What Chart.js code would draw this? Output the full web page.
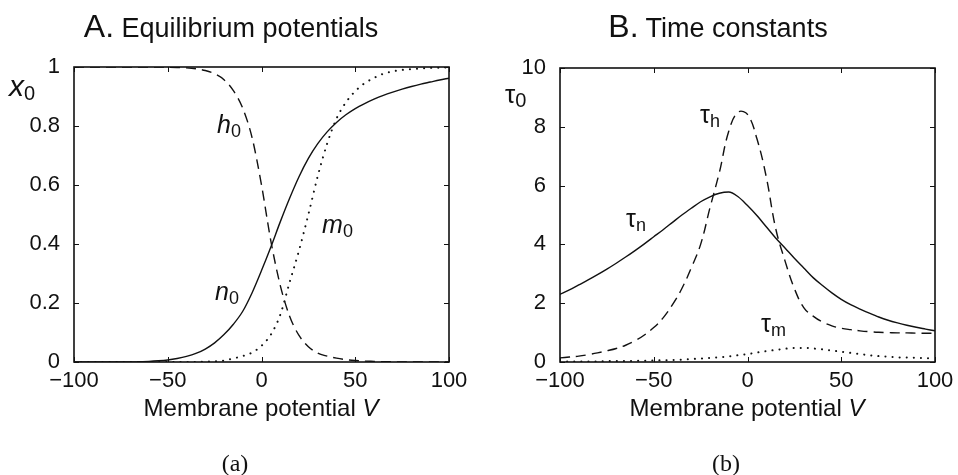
<!DOCTYPE html>
<html lang="en">
<head>
    <meta charset="UTF-8">
    <title>Equilibrium potentials and time constants</title>
    <script src="https://cdn.jsdelivr.net/npm/chart.js"></script>
    <style>
        body { margin: 0; background: #fff; width: 958px; height: 475px; position: relative; overflow: hidden;
               font-family: "Liberation Sans", Arial, sans-serif; color: #111; }
        .panel { position: absolute; top: 0; width: 479px; height: 475px; }
        .txt { position: absolute; white-space: nowrap; line-height: 1; }
        .title { font-size: 27px; }
        .title b { font-weight: normal; font-size: 32px; }
        .xlab { font-size: 24px; }
        .cap { font-family: "Liberation Serif", "DejaVu Serif", serif; font-size: 24px; }
        .ylab { font-size: 30px; }
        .ylab sub { font-size: 20px; font-style: normal; vertical-align: -4px; }
    </style>
</head>
<body>
    <div class="panel" style="left:0"><canvas id="chartA" width="479" height="475"></canvas></div>
    <div class="panel" style="left:479px"><canvas id="chartB" width="479" height="475"></canvas></div>

    <div class="txt title" style="left:0; width:462px; text-align:center; top:10px"><b>A.</b> Equilibrium potentials</div>
    <div class="txt title" style="left:475px; width:486px; text-align:center; top:10px"><b>B.</b> Time constants</div>
    <div class="txt xlab" style="left:61px; width:400px; text-align:center; top:396px">Membrane potential <i>V</i></div>
    <div class="txt xlab" style="left:547px; width:400px; text-align:center; top:396px">Membrane potential <i>V</i></div>
    <div class="txt cap" style="left:135px; width:200px; text-align:center; top:451px">(a)</div>
    <div class="txt cap" style="left:626px; width:200px; text-align:center; top:451px">(b)</div>
    <div class="txt ylab" style="left:9px; top:71px"><i>x</i><sub>0</sub></div>
    <div class="txt ylab" style="left:505px; top:81px; font-size:26px">τ<sub>0</sub></div>

    <script>
        // membrane potential (shared x values)
        const V = [-100, -95, -90, -85, -80, -75, -70, -65, -60, -55, -50, -45, -40, -35, -30, -25, -20, -15, -10, -5,
                   0, 5, 10, 15, 20, 25, 30, 35, 40, 45, 50, 55, 60, 65, 70, 75, 80, 85, 90, 95, 100];

        // A. equilibrium values
        const h0 = [1, 1, 1, 1, 1, 1, 1, 1, 1, 1, 0.999, 0.998, 0.997, 0.994, 0.988, 0.977, 0.957, 0.92, 0.86, 0.76,
                    0.6, 0.41, 0.26, 0.155, 0.09, 0.052, 0.03, 0.02, 0.013, 0.008, 0.005, 0.003, 0.002, 0.001, 0.001, 0, 0, 0, 0, 0, 0];
        const n0 = [0, 0, 0, 0, 0, 0, 0, 0.001, 0.002, 0.004, 0.007, 0.012, 0.019, 0.029, 0.044, 0.065, 0.093, 0.128, 0.172, 0.235,
                    0.31, 0.39, 0.475, 0.555, 0.628, 0.69, 0.74, 0.78, 0.812, 0.838, 0.859, 0.876, 0.891, 0.904, 0.915, 0.925, 0.934, 0.942, 0.949, 0.956, 0.962];
        const m0 = [0, 0, 0, 0, 0, 0, 0, 0, 0, 0, 0, 0, 0, 0, 0.001, 0.002, 0.005, 0.012, 0.02, 0.032,
                    0.055, 0.093, 0.16, 0.27, 0.378, 0.5, 0.63, 0.74, 0.825, 0.88, 0.918, 0.945, 0.963, 0.977, 0.985, 0.99, 0.993, 0.995, 0.997, 0.998, 0.999];

        // B. time constants
        const tauH = [0.14, 0.17, 0.2, 0.25, 0.31, 0.38, 0.46, 0.57, 0.72, 0.92, 1.17, 1.5, 1.95, 2.5, 3.2, 4.0, 5.25, 6.45, 7.85, 8.5,
                      8.42, 7.6, 6.3, 4.55, 3.44, 2.5, 1.85, 1.56, 1.36, 1.23, 1.15, 1.1, 1.06, 1.03, 1.01, 1.0, 0.99, 0.99, 0.98, 0.98, 0.98];
        const tauN = [2.3, 2.45, 2.62, 2.79, 2.97, 3.16, 3.36, 3.57, 3.79, 4.02, 4.26, 4.5, 4.75, 5.0, 5.23, 5.45, 5.62, 5.74, 5.78, 5.62,
                      5.32, 4.98, 4.6, 4.22, 3.88, 3.53, 3.2, 2.87, 2.6, 2.35, 2.13, 1.95, 1.8, 1.66, 1.53, 1.42, 1.33, 1.25, 1.18, 1.12, 1.06];
        const tauM = [0.02, 0.02, 0.02, 0.02, 0.02, 0.03, 0.03, 0.03, 0.04, 0.04, 0.05, 0.06, 0.07, 0.08, 0.1, 0.12, 0.14, 0.16, 0.19, 0.23,
                      0.27, 0.32, 0.37, 0.41, 0.45, 0.48, 0.48, 0.46, 0.43, 0.39, 0.35, 0.31, 0.27, 0.23, 0.2, 0.18, 0.16, 0.15, 0.14, 0.13, 0.12];

        // curve labels, anchored in data units
        const labelsA = [
            { t: "h", s: "0", x: -23.7, y: 0.776, it: true },
            { t: "n", s: "0", x: -24.8, y: 0.21, it: true },
            { t: "m", s: "0", x: 32.3, y: 0.437, it: true }
        ];
        const labelsB = [
            { t: "τ", s: "h", x: -25.3, y: 8.13 },
            { t: "τ", s: "n", x: -64.8, y: 4.59 },
            { t: "τ", s: "m", x: 7.2, y: 1.02 }
        ];

        const ink = "#111";
        const font = "Liberation Sans, Arial, sans-serif";

        // box with inward ticks on all four sides + curve labels
        const frame = {
            id: "frame",
            afterDatasetsDraw(chart, args, opts) {
                const { ctx, chartArea: a, scales: { x, y } } = chart;
                ctx.save();
                ctx.strokeStyle = ink;
                ctx.lineWidth = 1.6;
                ctx.strokeRect(a.left, a.top, a.right - a.left, a.bottom - a.top);
                ctx.lineWidth = 1;
                ctx.beginPath();
                x.ticks.forEach(t => {
                    const px = Math.round(x.getPixelForValue(t.value)) + 0.5;
                    ctx.moveTo(px, a.bottom); ctx.lineTo(px, a.bottom - 5);
                    ctx.moveTo(px, a.top); ctx.lineTo(px, a.top + 5);
                });
                y.ticks.forEach(t => {
                    const py = Math.round(y.getPixelForValue(t.value)) + 0.5;
                    ctx.moveTo(a.left, py); ctx.lineTo(a.left + 5, py);
                    ctx.moveTo(a.right, py); ctx.lineTo(a.right - 5, py);
                });
                ctx.stroke();

                ctx.fillStyle = ink;
                ctx.textBaseline = "alphabetic";
                (opts.labels || []).forEach(l => {
                    const px = x.getPixelForValue(l.x), py = y.getPixelForValue(l.y);
                    ctx.font = (l.it ? "italic " : "") + "25px " + font;
                    ctx.fillText(l.t, px, py);
                    const w = ctx.measureText(l.t).width;
                    ctx.font = "18px " + font;
                    ctx.fillText(l.s, px + w, py + 4);
                });
                ctx.restore();
            }
        };

        // solid, dashed, dotted
        const styles = [
            { borderDash: [], borderWidth: 1.4, borderCapStyle: "butt" },
            { borderDash: [10, 6], borderWidth: 1.4, borderCapStyle: "butt" },
            { borderDash: [0.1, 7], borderWidth: 2, borderCapStyle: "round" }
        ];

        function makeChart(id, series, yMax, yStep, labels, padRight, axisW, padTop, peaked) {
            return new Chart(document.getElementById(id), {
                type: "line",
                data: {
                    datasets: series.map((s, i) => Object.assign({
                        data: V.map((v, k) => ({ x: v, y: s[k] })),
                        borderColor: ink,
                        pointRadius: 0,
                        cubicInterpolationMode: i === peaked ? "default" : "monotone",
                        tension: i === peaked ? 0.4 : 0,
                        fill: false
                    }, styles[i]))
                },
                options: {
                    responsive: false,
                    animation: false,
                    layout: { padding: { top: padTop, right: padRight, left: 0, bottom: 0 } },
                    plugins: { legend: { display: false }, tooltip: { enabled: false }, frame: { labels: labels } },
                    scales: {
                        x: {
                            type: "linear", min: -100, max: 100,
                            grid: { display: false }, border: { display: false },
                            afterFit: s => { s.height = 113; },
                            ticks: {
                                stepSize: 50, padding: -2, color: ink, maxRotation: 0,
                                font: { family: font, size: 22 },
                                callback: v => String(v).replace("-", "\u2212")
                            }
                        },
                        y: {
                            min: 0, max: yMax,
                            grid: { display: false }, border: { display: false },
                            afterFit: s => { s.width = axisW; },
                            ticks: {
                                stepSize: yStep, padding: 6, color: ink, font: { family: font, size: 22 },
                                callback: v => String(Number(v.toFixed(2)))
                            }
                        }
                    }
                },
                plugins: [frame]
            });
        }

        makeChart("chartA", [n0, h0, m0], 1, 0.2, labelsA, 30, 74, 67, -1);
        makeChart("chartB", [tauN, tauH, tauM], 10, 2, labelsB, 23, 81, 68, 1);
    </script>
</body>
</html>
